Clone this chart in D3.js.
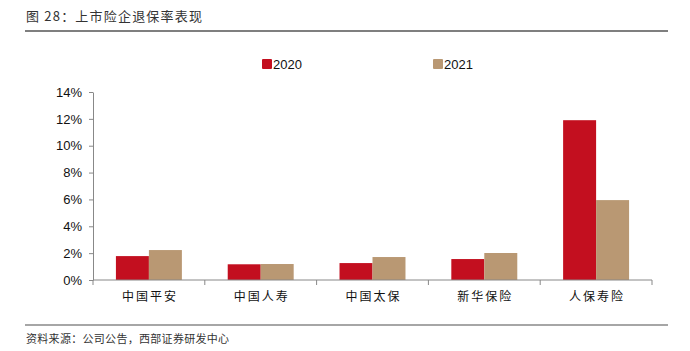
<!DOCTYPE html>
<html lang="zh">
<head>
  <meta charset="UTF-8">
  <title>上市险企退保率表现</title>
  <script src="https://d3js.org/d3.v7.min.js"></script>
  <style>
    * { margin: 0; padding: 0; box-sizing: border-box; }
    body { background: #fff; font-family: "Liberation Sans", Arial, sans-serif; }
    .cjk { font-family: "Noto Sans CJK SC", sans-serif; }
  </style>
</head>
<body>
  <div id="chart"></div>
  <script>
    const categories = ["中国平安", "中国人寿", "中国太保", "新华保险", "人保寿险"];
    const years = ["2020", "2021"];
    const v2020 = [1.78, 1.17, 1.26, 1.56, 11.9];
    const v2021 = [2.23, 1.19, 1.71, 2.01, 5.95];
    const yTicks = [0, 2, 4, 6, 8, 10, 12, 14];
    const colors = ["#C30F1F", "#B99873"];

    const W = 690, H = 351;
    const margin = {top: 92, right: 38, bottom: 71, left: 93};
    const width = W - margin.left - margin.right,
          height = H - margin.top - margin.bottom;

    const svg = d3.select("#chart").append("svg")
      .attr("width", W).attr("height", H);

    // title and rules
    svg.append("text").attr("class", "cjk")
      .attr("x", 26).attr("y", 21)
      .style("font-size", "13px").style("fill", "#333")
      .style("letter-spacing", "1.2px")
      .text("图 28：上市险企退保率表现");
    svg.append("line").attr("x1", 25).attr("x2", 668).attr("y1", 31).attr("y2", 31)
      .attr("stroke", "#555").attr("stroke-width", 1.5);
    svg.append("line").attr("x1", 25).attr("x2", 668).attr("y1", 325).attr("y2", 325)
      .attr("stroke", "#888").attr("stroke-width", 1.5);
    svg.append("text").attr("class", "cjk")
      .attr("x", 26).attr("y", 343)
      .style("font-size", "11px").style("fill", "#333")
      .style("letter-spacing", "0.3px")
      .text("资料来源：公司公告，西部证券研发中心");

    const g = svg.append("g").attr("transform", `translate(${margin.left},${margin.top})`);

    const x0 = d3.scaleBand().domain(categories).range([0, width]).paddingInner(0.41).paddingOuter(0.205);
    const x1 = d3.scaleBand().domain(years).range([0, x0.bandwidth()]);
    const y = d3.scaleLinear().domain([0, 14]).range([height, 0]);

    const data = categories.map((c, i) => ({cat: c, vals: [v2020[i], v2021[i]]}));

    g.selectAll(".grp").data(data).enter().append("g")
      .attr("transform", d => `translate(${x0(d.cat)},0)`)
      .selectAll("rect").data(d => d.vals.map((v, j) => ({year: years[j], v, j})))
      .enter().append("rect")
      .attr("x", d => x1(d.year))
      .attr("y", d => y(d.v))
      .attr("width", x1.bandwidth())
      .attr("height", d => height - y(d.v))
      .attr("fill", d => colors[d.j]);

    // y axis
    const yAxis = g.append("g")
      .call(d3.axisLeft(y).tickValues(yTicks).tickFormat(d => d + "%").tickSize(4).tickSizeOuter(0));
    yAxis.selectAll("line, path").attr("stroke", "#888");
    yAxis.selectAll("text").attr("x", -11).style("font-size", "13px").style("fill", "#111")
      .style("font-family", "'Liberation Sans', Arial, sans-serif");

    // x axis with ticks between categories
    const xAxis = g.append("g").attr("transform", `translate(0,${height})`);
    xAxis.append("line").attr("x1", 0).attr("x2", width).attr("stroke", "#888");
    const step = x0.step();
    xAxis.selectAll(".tk").data(d3.range(categories.length + 1)).enter().append("line")
      .attr("x1", i => i * step).attr("x2", i => i * step)
      .attr("y1", 0).attr("y2", 5).attr("stroke", "#888");
    xAxis.selectAll(".lb").data(categories).enter().append("text")
      .attr("class", "cjk")
      .attr("x", d => x0(d) + x0.bandwidth() / 2 + 1)
      .attr("y", 21)
      .attr("text-anchor", "middle")
      .style("font-size", "12px").style("fill", "#111")
      .style("letter-spacing", "2px")
      .text(d => d);

    // legend
    const legX = [262, 433];
    const leg = svg.selectAll(".leg").data(years).enter().append("g")
      .attr("transform", (d, i) => `translate(${legX[i]},59)`);
    leg.append("rect").attr("width", 10).attr("height", 10).attr("rx", 1)
      .attr("fill", (d, i) => colors[i]);
    leg.append("text").attr("x", 11).attr("y", 10)
      .style("font-size", "13px").style("fill", "#111").text(d => d);
  </script>
</body>
</html>
